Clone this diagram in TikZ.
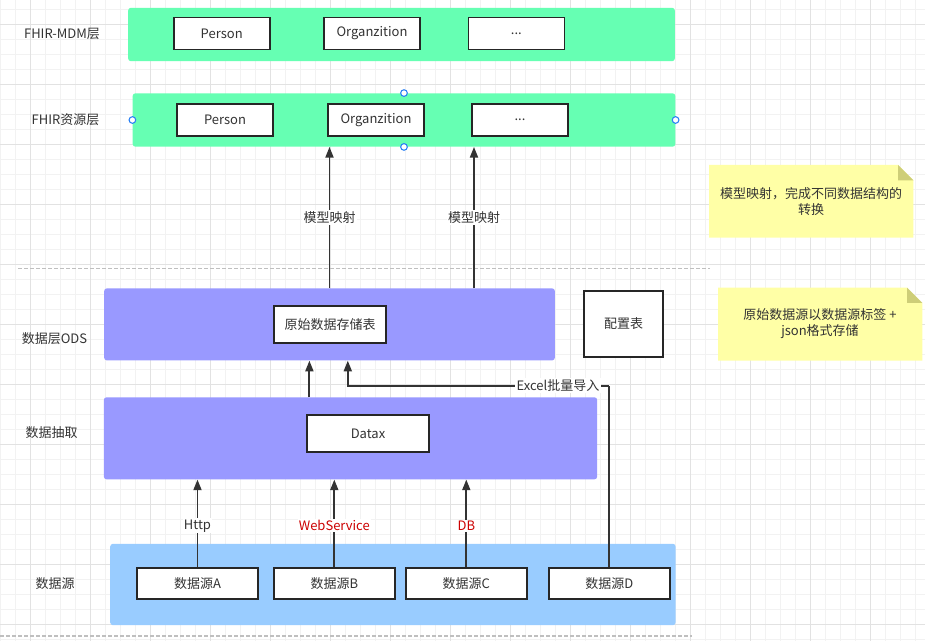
\documentclass[tikz,border=0pt]{standalone}
\usepackage{fontspec}
\setmainfont{Noto Sans CJK SC}
\usepackage{tikz}
\usetikzlibrary{arrows.meta}
\usetikzlibrary{calc}
\usetikzlibrary{positioning}

\definecolor{gridminor}{RGB}{242,242,242}
\definecolor{gridmajor}{RGB}{226,226,226}
\definecolor{fhirgreen}{RGB}{102,255,179}
\definecolor{odsblue}{RGB}{153,153,255}
\definecolor{srcblue}{RGB}{153,204,255}
\definecolor{notefill}{RGB}{255,255,166}
\definecolor{notefold}{RGB}{206,206,120}
\definecolor{ink}{RGB}{51,51,51}
\definecolor{linkred}{RGB}{204,0,0}
\definecolor{handleblue}{RGB}{41,128,245}

\begin{document}
\begin{tikzpicture}[x=0.75pt,y=-0.75pt,
  font=\fontsize{9.75pt}{12pt}\selectfont,
  layer/.style={rounded corners=2pt,inner sep=0pt},
  entity/.style={draw=black!85,line width=1.3pt,fill=white,text=ink,
    minimum width=72pt,minimum height=24pt,inner sep=0pt},
  srcbox/.style={entity,minimum width=91pt,minimum height=23.5pt},
  lbl/.style={text=ink,inner sep=0pt},
  arr/.style={draw=ink,line width=1.4pt,-{Triangle[length=8pt,width=6pt]}},
  link/.style={draw=ink,line width=1.4pt},
  tag/.style={fill=white,text=ink,inner sep=1pt},
  sep/.style={draw=black!25,line width=1.2pt,dash pattern=on 3pt off 1.5pt},
  handle/.style={circle,draw=handleblue,fill=white,line width=0.8pt,
    minimum size=5pt,inner sep=0pt},
  notetext/.style={text=ink,align=center,inner sep=0pt}]

\useasboundingbox (0,0) rectangle (925,641);
\fill[white] (0,0) rectangle (925,641);

% grid
\foreach \x in {0,15,...,915} \draw[gridminor,line width=0.75pt] (\x,0) -- (\x,641);
\foreach \y in {9.3,24.3,...,639.3} \draw[gridminor,line width=0.75pt] (0,\y) -- (925,\y);
\foreach \x in {30,90,...,870} \draw[gridmajor,line width=0.75pt] (\x,0) -- (\x,641);
\foreach \y in {24.3,84.3,...,624.3} \draw[gridmajor,line width=0.75pt] (0,\y) -- (925,\y);

% separators
\draw[sep] (18,268.5) -- (710,268.5);
\draw[sep] (0,636) -- (692,636);

% FHIR-MDM layer
\node[layer,fill=fhirgreen,minimum width=410pt,minimum height=40pt] (mdm) at (401.5,34.5) {};
\node[entity] (mdmPerson) at (221.7,33.5) {Person};
\node[entity] (mdmOrg) at (372,33.5) {Organzition};
\node[entity] (mdmMore) at (516.4,33.5) {...};
\node[lbl] (lblMdm) at (62,34) {FHIR-MDM层};

% FHIR resource layer
\node[layer,fill=fhirgreen,minimum width=407pt,minimum height=40pt] (fhir) at (404,120) {};
\node[entity] (fhirPerson) at (225,120) {Person};
\node[entity] (fhirOrg) at (376,120) {Organzition};
\node[entity] (fhirMore) at (520,120) {...};
\node[lbl] (lblFhir) at (65.5,120) {FHIR资源层};
\node[handle] (hW) at (fhir.west) {};
\node[handle] (hE) at (fhir.east) {};
\node[handle] (hN) at (fhir.north) {};
\node[handle] (hS) at (fhir.south) {};

% ODS layer
\node[layer,fill=odsblue,minimum width=338pt,minimum height=54pt] (ods) at (329.5,324.4) {};
\node[entity,minimum width=84pt,minimum height=28pt] (store) at (330,324.4) {原始数据存储表};
\node[entity,minimum width=59pt,minimum height=50pt] (config) at (623.5,324) {配置表};
\node[lbl] (lblOds) at (54.5,339) {数据层ODS};

% extraction layer
\node[layer,fill=odsblue,minimum width=370pt,minimum height=61.5pt] (extract) at (350.5,438.3) {};
\node[entity,minimum width=92pt,minimum height=28pt] (datax) at (368,433.5) {Datax};
\node[lbl] (lblExtract) at (51.5,433) {数据抽取};

% source layer
\node[layer,fill=srcblue,minimum width=424pt,minimum height=61pt] (source) at (392.9,584.5) {};
\node[srcbox] (srcA) at (197.5,583.3) {数据源A};
\node[srcbox] (srcB) at (334.3,583.3) {数据源B};
\node[srcbox] (srcC) at (466.3,583.3) {数据源C};
\node[srcbox] (srcD) at (609.3,583.3) {数据源D};
\node[lbl] (lblSource) at (55,584) {数据源};

% notes
\fill[notefill] (709,165) -- (898,165) -- (913.3,180.3) -- (913.3,237.7) -- (709,237.7) -- cycle;
\fill[notefold] (898,165) -- (913.3,180.3) -- (898,180.3) -- cycle;
\node[notetext] (noteMap) at (811,202) {模型映射，完成不同数据结构的\\转换};
\fill[notefill] (718,287.7) -- (907,287.7) -- (922.3,303) -- (922.3,360.7) -- (718,360.7) -- cycle;
\fill[notefold] (907,287.7) -- (922.3,303) -- (907,303) -- cycle;
\node[notetext] (noteRaw) at (820,324) {原始数据源以数据源标签 +\\json格式存储};

% connectors
\coordinate (odsOrg) at (329.5,288.4);
\coordinate (odsMore) at (474,288.4);
\draw[arr] (odsOrg) -- node[tag] {模型映射} (odsOrg |- fhir.south);
\draw[arr] (odsMore) -- node[tag] {模型映射} (odsMore |- fhir.south);

\coordinate (dataxOut) at (309.4,397.3);
\draw[arr] (dataxOut) -- (dataxOut |- ods.south);

\coordinate (excelTurn) at (609.3,385.7);
\coordinate (excelIn) at (347.8,385.7);
\draw[link] (srcD.north) -- (excelTurn);
\draw[arr] (excelTurn) -- node[tag,pos=0.196] {Excel批量导入} (excelIn) -- (excelIn |- ods.south);

\draw[arr] (srcA.north) -- node[tag,pos=0.47] {Http} (srcA.north |- extract.south);
\draw[arr] (srcB.north) -- node[tag,pos=0.47,text=linkred] {WebService} (srcB.north |- extract.south);
\draw[arr] (srcC.north) -- node[tag,pos=0.47,text=linkred] {DB} (srcC.north |- extract.south);

\end{tikzpicture}
\end{document}
